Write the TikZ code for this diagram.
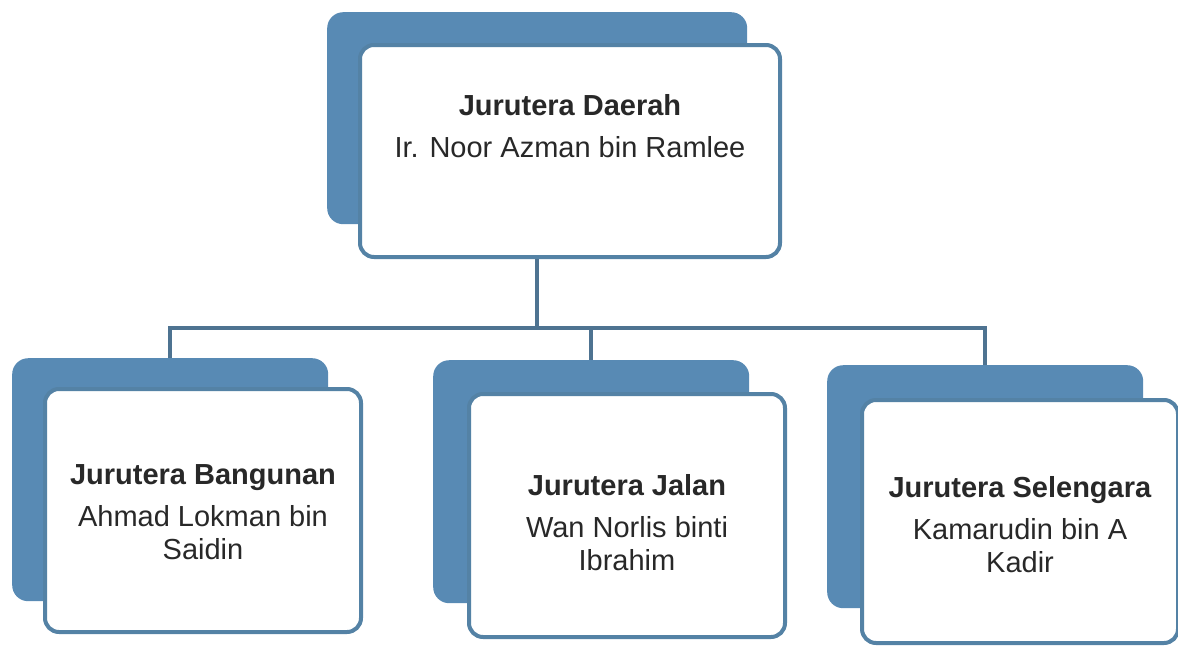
\documentclass[tikz,border=0pt]{standalone}
\usepackage{fontspec}
\setmainfont{Liberation Sans}
\definecolor{backblue}{RGB}{88,138,180}
\definecolor{frameblue}{RGB}{84,130,165}
\definecolor{linkblue}{RGB}{78,115,145}
\definecolor{inkgray}{RGB}{40,40,40}

\begin{document}
\begin{tikzpicture}[x=1pt, y=-1pt,
		back/.style={rectangle, rounded corners=16pt, fill=backblue, anchor=north west, inner sep=0pt},
		front/.style={rectangle, rounded corners=14pt, draw=frameblue, line width=4pt, fill=white, anchor=north west, inner sep=0pt},
		big/.style={minimum width=420pt, minimum height=212pt},
		small/.style={minimum width=316pt, minimum height=243pt},
		txt/.style={anchor=north, align=center, inner sep=0pt, text=inkgray, font=\fontsize{29}{33}\selectfont},
		link/.style={draw=linkblue, line width=4pt}]
		\useasboundingbox (0,0) rectangle (1178,646);

		\coordinate (bus) at (0,328);

		\node[back, big] (tb) at (327,12) {};
		\node[front, big] (tf) at (358,43) {};
		\node[txt] (tt) at (tf.center |- 0,94) {\textbf{Jurutera Daerah}\\[9pt]Ir. Noor Azman bin Ramlee};

		\node[back, small] (lb) at (12,358) {};
		\node[front, small] (lf) at (43,387) {};
		\node[txt] (lt) at (lf.center |- 0,464) {\textbf{Jurutera Bangunan}\\[9pt]Ahmad Lokman bin\\Saidin};

		\node[back, small] (mb) at (433,360) {};
		\node[front, small] (mf) at (467,392) {};
		\node[txt] (mt) at (mf.center |- 0,474) {\textbf{Jurutera Jalan}\\[9pt]Wan Norlis binti\\Ibrahim};

		\node[back, small] (rb) at (827,365) {};
		\node[front, small] (rf) at (860,398) {};
		\node[txt] (rt) at (rf.center |- 0,476) {\textbf{Jurutera Selengara}\\[9pt]Kamarudin bin A\\Kadir};

		\draw[link] (tb |- tf.south) -- (tb |- bus);
		\draw[link] (lb.north) -- (lb |- bus) -- (rb |- bus) -- (rb.north);
		\draw[link] (mb |- bus) -- (mb.north);
	\end{tikzpicture}
\end{document}
